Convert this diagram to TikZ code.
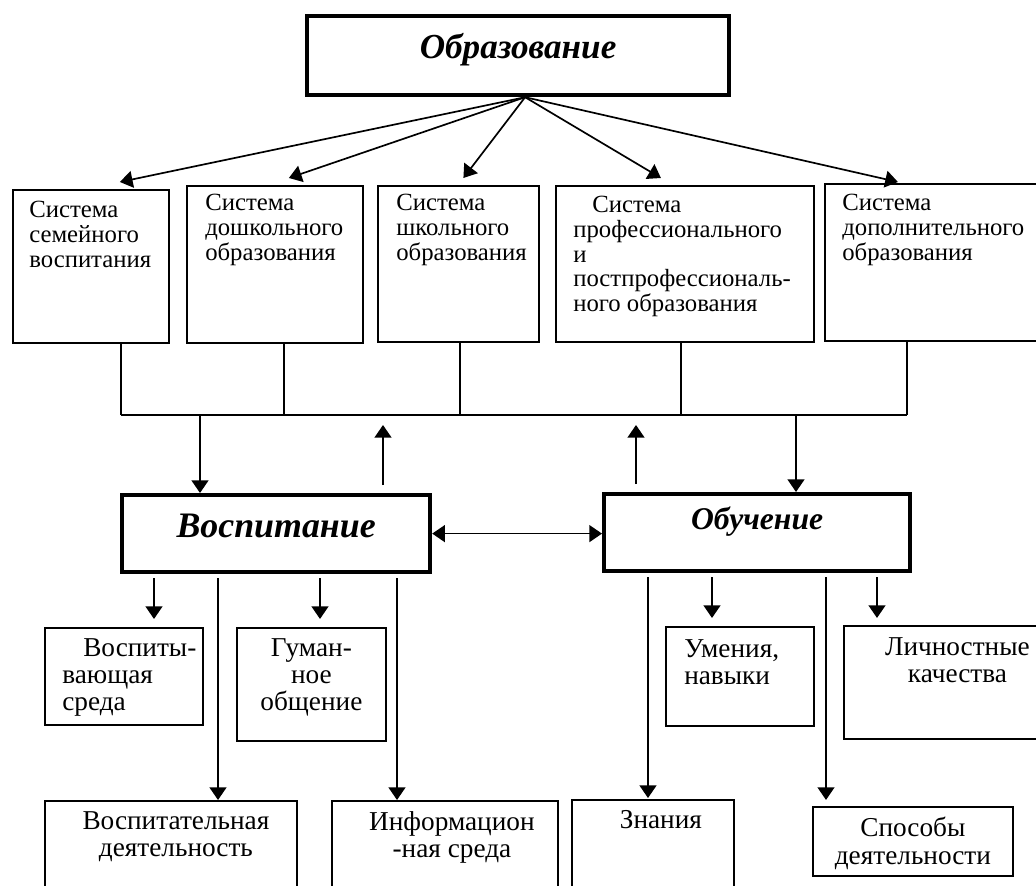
\documentclass[tikz,border=0pt]{standalone}
\usepackage{fontspec}
\setmainfont{Liberation Serif}
\usepackage{tikz}
\usetikzlibrary{arrows.meta,calc}

\begin{document}
\begin{tikzpicture}[x=0.25mm, y=-0.25mm]%
  \tikzset{normal arrow/.style={draw,-{Triangle[length=9pt,width=12pt]},line width=1.2pt,black}}
  \tikzset{link/.style={draw,line width=1.2pt}}
  \tikzset{thin box/.style={draw,rectangle,line width=1.3pt,inner sep=0pt,anchor=north west}}
  \tikzset{thick box/.style={draw,rectangle,line width=3pt,inner sep=0pt,anchor=north west}}
  \tikzset{head/.style={anchor=center,inner sep=0pt,font=\fontsize{25}{25}\selectfont\bfseries\itshape}}
  \tikzset{txt/.style={inner sep=0pt,font=\fontsize{19.4}{19.4}\selectfont}}
  \tikzset{left txt/.style={txt,anchor=north west,align=left}}
  \tikzset{mid txt/.style={txt,anchor=north,align=center}}
  \tikzset{sys txt/.style={left txt,font=\fontsize{17.6}{17.6}\selectfont}}

  \useasboundingbox (0,0) rectangle (1036,886);

  % top level
  \node[thick box, minimum width=422*0.25mm, minimum height=79*0.25mm,
        label={[head,shift={(0,-6)}]center:Образование}] (edu) at (305,14) {};

  % systems
  \node[thin box, minimum width=156*0.25mm, minimum height=153*0.25mm,
        label={[sys txt,shift={(17,12)}]north west:Система\\семейного\\воспитания}] (fam) at (12,189) {};
  \node[thin box, minimum width=176*0.25mm, minimum height=157*0.25mm,
        label={[sys txt,shift={(19,9)}]north west:Система\\дошкольного\\образования}] (pre) at (186,185) {};
  \node[thin box, minimum width=161*0.25mm, minimum height=156*0.25mm,
        label={[sys txt,shift={(19,9)}]north west:Система\\школьного\\образования}] (sch) at (377,185) {};
  \node[thin box, minimum width=258*0.25mm, minimum height=156*0.25mm,
        label={[sys txt,shift={(18,11)}]north west:\hspace*{4.75mm}Система\\профессионального\\и\\постпрофессиональ-\\ного образования}] (pro) at (555,185) {};
  \node[thin box, minimum width=236*0.25mm, minimum height=157*0.25mm,
        label={[sys txt,shift={(18,11)}]north west:Система\\дополнительного\\образования}] (add) at (824,183) {};

  \coordinate (hub) at ([shift={(7,0)}]edu.south);
  \foreach \n/\dx/\dy in {fam/29/-7, pre/14/-7, sch/5/-7, pro/-24/-7, add/-45/-1}
    \draw[normal arrow] (hub) -- ([shift={(\dx,\dy)}]\n.north);

  % bus
  \foreach \n/\x in {fam/121, pre/284, sch/460, pro/681, add/907}
    \draw[link] (\x,415) coordinate (bus-\n) -- (bus-\n |- \n.south);
  \draw[link] (bus-fam) -- (bus-add);

  % main processes
  \node[thick box, minimum width=308*0.25mm, minimum height=77*0.25mm,
        label={[head,font=\fontsize{25.5}{25.5}\selectfont\bfseries\itshape,shift={(0,-8)}]center:Воспитание}] (vos) at (120,493) {};
  \node[thick box, minimum width=306*0.25mm, minimum height=77*0.25mm,
        label={[head,font=\fontsize{22.5}{22.5}\selectfont\bfseries\itshape,shift={(0,-11)}]center:Обучение}] (obu) at (602,492) {};

  \coordinate (d1) at (200,415);
  \coordinate (u1) at (383,425);
  \coordinate (u2) at (636,425);
  \coordinate (d2) at (796,415);
  \draw[normal arrow] (d1) -- (d1 |- vos.north);
  \draw[normal arrow] ($(u1 |- vos.north)+(0,-8)$) -- (u1);
  \draw[normal arrow] ($(u2 |- obu.north)+(0,-8)$) -- (u2);
  \draw[normal arrow] (d2) -- (d2 |- obu.north);
  \draw[normal arrow,{Triangle[length=9pt,width=12pt]}-{Triangle[length=9pt,width=12pt]}] (vos.east) -- (vos.east -| obu.west);

  % results
  \node[thin box, minimum width=158*0.25mm, minimum height=97*0.25mm,
        label={[left txt,shift={(18,11)}]north west:\hspace*{5.25mm}Воспиты-\\вающая\\среда}] (vp) at (44,627) {};
  \node[thin box, minimum width=149*0.25mm, minimum height=113*0.25mm,
        label={[mid txt,shift={(0,11)}]north:Гуман-\\ное\\общение}] (gum) at (236,627) {};
  \node[thin box, minimum width=252*0.25mm, minimum height=150*0.25mm,
        label={[mid txt,shift={(5,11)}]north:Воспитательная\\деятельность}] (vd) at (44,800) {};
  \node[thin box, minimum width=226*0.25mm, minimum height=150*0.25mm,
        label={[mid txt,shift={(7,11)}]north:Информацион\\-ная среда}] (inf) at (331,800) {};
  \node[thin box, minimum width=162*0.25mm, minimum height=150*0.25mm,
        label={[mid txt,shift={(8,11)}]north:Знания}] (zn) at (571,799) {};
  \node[thin box, minimum width=148*0.25mm, minimum height=99*0.25mm,
        label={[left txt,shift={(19,13)}]north west:Умения,\\навыки}] (um) at (665,626) {};
  \node[thin box, minimum width=200*0.25mm, minimum height=69*0.25mm,
        label={[mid txt,shift={(0,11)}]north:Способы\\деятельности}] (sp) at (812,806) {};
  \node[thin box, minimum width=227*0.25mm, minimum height=113*0.25mm,
        label={[mid txt,shift={(0,12)}]north:Личностные\\качества}] (lk) at (843,625) {};

  \foreach \x/\n/\s in {154/vp/5.7, 218/vd/0, 320/gum/5.7, 397/inf/0}
    \draw[normal arrow, shorten >=\s pt] ($(vos.south -| \x,0)+(0,4)$) -- (\x,0 |- \n.north);
  \foreach \x/\n/\s in {648/zn/0.7, 712/um/5.7, 826/sp/4.3, 877/lk/5}
    \draw[normal arrow, shorten >=\s pt] ($(obu.south -| \x,0)+(0,4)$) -- (\x,0 |- \n.north);

\end{tikzpicture}
\end{document}
